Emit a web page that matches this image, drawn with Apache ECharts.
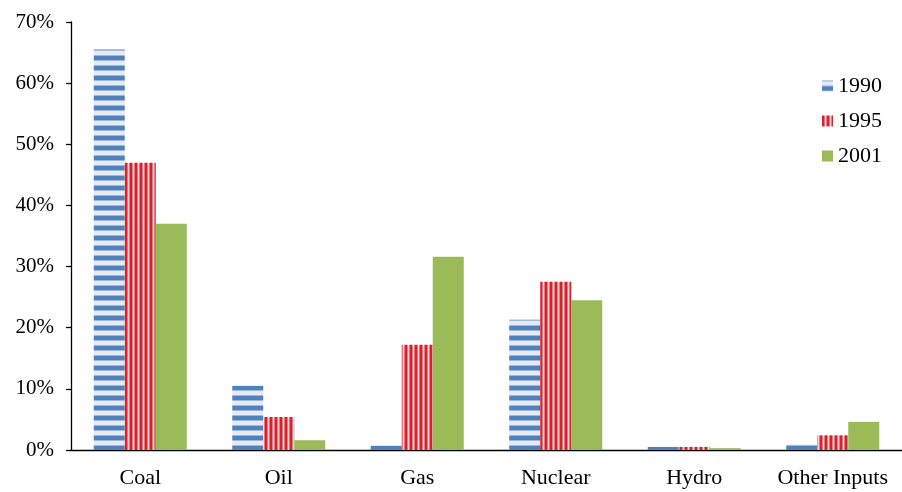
<!DOCTYPE html>
<html>
<head>
<meta charset="utf-8">
<script src="https://cdn.jsdelivr.net/npm/echarts@6/dist/echarts.min.js"></script>
<style>
  html, body { margin: 0; padding: 0; background: #fff; }
  #chart { width: 902px; height: 492px; }
</style>
</head>
<body>
<div id="chart"></div>
<script>
// Share of electricity generation by fuel input
const categories = ['Coal', 'Oil', 'Gas', 'Nuclear', 'Hydro', 'Other Inputs'];
const years = ['1990', '1995', '2001'];
const share1990 = [65.5, 10.5, 0.7, 21.3, 0.5, 0.9];
const share1995 = [47.0, 5.4, 17.2, 27.5, 0.5, 2.4];
const share2001 = [37.0, 1.6, 31.6, 24.5, 0.3, 4.6];
const yTicks = [0, 10, 20, 30, 40, 50, 60, 70];

// Horizontal stripes (blue) fill; the solid band sits at the bottom of each 10px tile
function horizontalStripes() {
  const c = document.createElement('canvas');
  c.width = 4; c.height = 10;
  const g = c.getContext('2d');
  g.fillStyle = '#e4ebf5'; g.fillRect(0, 0, 4, 10);
  g.fillStyle = '#4F81BD'; g.fillRect(0, 6, 4, 4);
  g.fillStyle = '#9fb8d9'; g.fillRect(0, 5, 4, 1); g.fillRect(0, 0, 4, 1);
  return c;
}
// Vertical stripes (red) fill
function verticalStripes() {
  const c = document.createElement('canvas');
  c.width = 5; c.height = 4;
  const g = c.getContext('2d');
  g.fillStyle = '#f8d3d5'; g.fillRect(0, 0, 5, 4);
  g.fillStyle = '#D7222E'; g.fillRect(0, 0, 2, 4);
  g.fillStyle = '#e77a80'; g.fillRect(2, 0, 1, 4); g.fillRect(4, 0, 1, 4);
  return c;
}

const FONT = '"Liberation Serif", "DejaVu Serif", serif';
const chart = echarts.init(document.getElementById('chart'), null, { renderer: 'canvas' });

const blueFill = { image: horizontalStripes(), repeat: 'repeat' };
const redFill = { image: verticalStripes(), repeat: 'repeat' };

chart.setOption({
  animation: false,
  backgroundColor: '#ffffff',
  textStyle: { fontFamily: FONT, color: '#000' },
  grid: { left: 71, right: 0, top: 22, bottom: 42, containLabel: false },
  legend: {
    orient: 'vertical',
    left: 822,
    top: 75,
    padding: 0,
    itemWidth: 11,
    itemHeight: 11,
    itemGap: 13,
    icon: 'rect',
    textStyle: { fontFamily: FONT, fontSize: 22, color: '#000' },
    data: years
  },
  xAxis: {
    type: 'category',
    data: categories,
    axisLine: { show: true, lineStyle: { color: '#000', width: 1.3 } },
    axisTick: { show: false },
    axisLabel: { interval: 0, hideOverlap: false, fontFamily: FONT, fontSize: 22, color: '#000', margin: 17 }
  },
  yAxis: {
    type: 'value',
    min: 0,
    max: 70,
    interval: 10,
    splitLine: { show: false },
    axisLine: { show: true, lineStyle: { color: '#000', width: 1.3 } },
    axisTick: { show: true, length: 5, lineStyle: { color: '#000', width: 1.3 } },
    axisLabel: {
      fontFamily: FONT, fontSize: 21, color: '#000', margin: 17,
      formatter: v => (yTicks.includes(v) ? v + '%' : '')
    }
  },
  series: [
    { name: years[0], type: 'bar', data: share1990, barWidth: 31, barGap: '0%', itemStyle: { color: blueFill } },
    { name: years[1], type: 'bar', data: share1995, barWidth: 31, barGap: '0%', itemStyle: { color: redFill } },
    { name: years[2], type: 'bar', data: share2001, barWidth: 31, barGap: '0%', itemStyle: { color: '#9BBB59' } }
  ]
});
</script>
</body>
</html>
